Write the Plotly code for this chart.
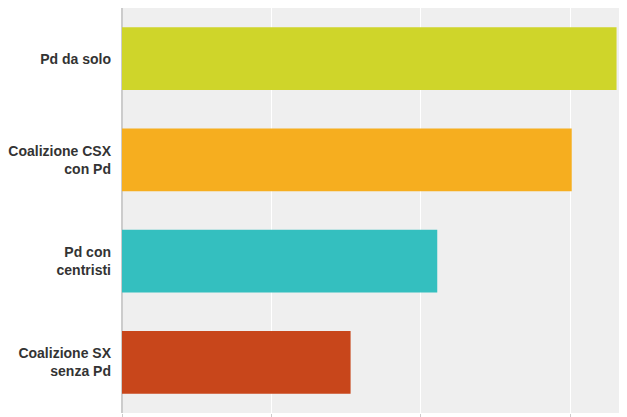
import plotly.graph_objects as go

categories = ["Pd da solo", "Coalizione CSX<br>con Pd", "Pd con<br>centristi", "Coalizione SX<br>senza Pd"]
values = [33.1, 30.1, 21.1, 15.3]
colors = ["#cfd52a", "#f6ae1f", "#34bfbf", "#c8461b"]

fig = go.Figure(go.Bar(
    y=categories, x=values, orientation="h",
    marker=dict(color=colors, line=dict(width=0)),
    hoverinfo="x+y",
))
fig.update_layout(
    width=619, height=409,
    margin=dict(l=112, r=0, t=0, b=1),
    paper_bgcolor="white", plot_bgcolor="#efefef",
    bargap=0.38, showlegend=False,
    font=dict(family="Liberation Sans, Arial, sans-serif", size=14, color="#333333"),
)
fig.update_xaxes(range=[0, 33.8], dtick=10, showticklabels=False, gridcolor="white",
                 gridwidth=1, zeroline=True, zerolinecolor="#cccccc",
                 ticks="outside", ticklen=4, tickcolor="#cccccc", fixedrange=True)
fig.update_yaxes(autorange="reversed", ticklabelstandoff=10, fixedrange=True,
                 tickfont=dict(family="Liberation Sans, Arial, sans-serif", size=14, color="#333333", weight="bold"))
fig.write_html("out.html")
